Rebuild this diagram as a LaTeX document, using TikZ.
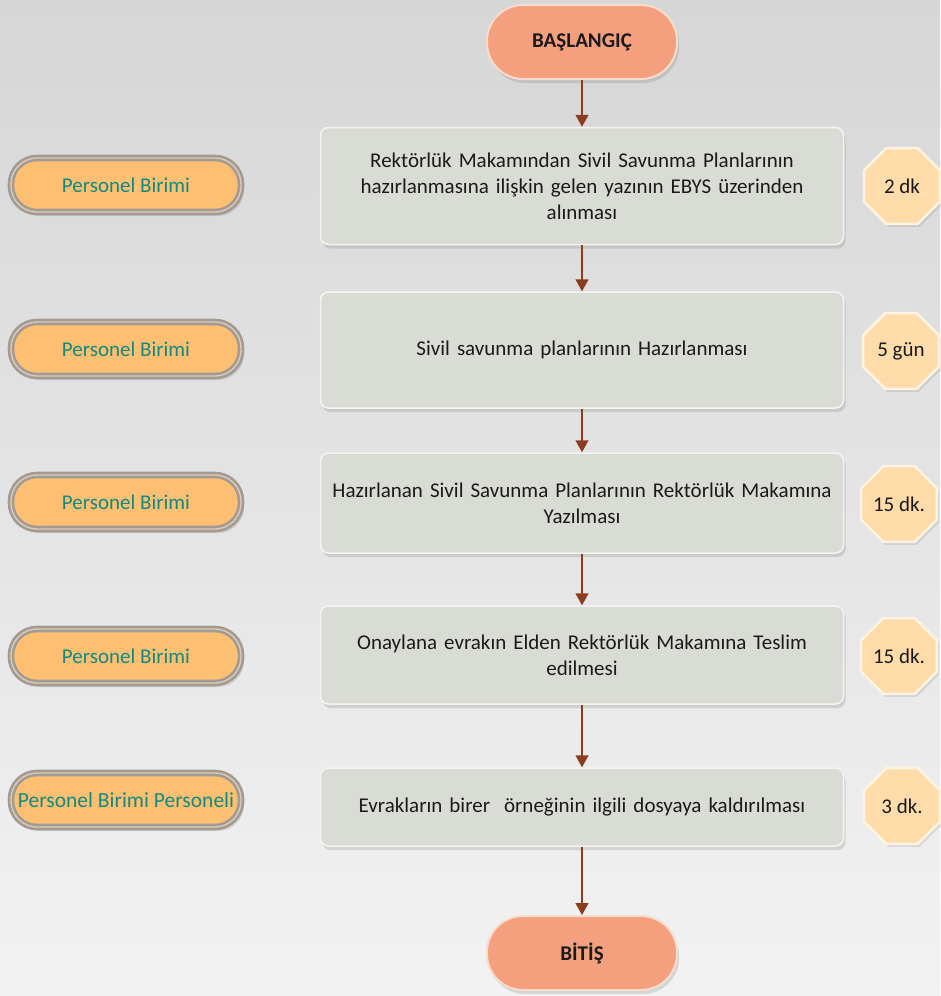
\documentclass[tikz,border=0pt]{standalone}
\usepackage{fontspec}
\setmainfont{Carlito}
\usetikzlibrary{shapes.geometric,shadows,arrows.meta}
\definecolor{bgtop}{HTML}{D6D6D6}
\definecolor{bgbot}{HTML}{F2F2F2}
\definecolor{boxfill}{HTML}{D9DBD5}
\definecolor{boxedge}{HTML}{F4F4F2}
\definecolor{pillfill}{HTML}{FDBF71}
\definecolor{pilledge}{HTML}{A39B93}
\definecolor{pillring}{HTML}{D9CBB8}
\definecolor{pilltext}{HTML}{138A80}
\definecolor{octfill}{HTML}{FFDCAA}
\definecolor{octedge}{HTML}{FFF4E4}
\definecolor{termfill}{HTML}{F4A07E}
\definecolor{termedge}{HTML}{F7DCCB}
\definecolor{arrowc}{HTML}{8B3E1F}
\definecolor{txt}{HTML}{1A1A1A}
\tikzset{
  stepbox/.style={draw=boxedge, line width=1.5pt, fill=boxfill, rounded corners=8pt,
    minimum width=523pt, text width=515pt, align=center, text=txt,
    font=\fontsize{21}{26}\selectfont,
    drop shadow={shadow xshift=2pt, shadow yshift=-4pt, opacity=0.25}},
  pill/.style={draw=pilledge, line width=2.6pt, double=pillring, double distance=1.4pt,
    fill=pillfill, rounded corners=26pt,
    minimum width=230pt, minimum height=54pt, text=pilltext, font=\fontsize{21}{24}\selectfont,
    inner sep=1pt, drop shadow={shadow xshift=3pt, shadow yshift=-4pt, opacity=0.25}},
  oct/.style={regular polygon, regular polygon sides=8, draw=octedge, line width=2.5pt,
    fill=octfill, minimum size=82pt, inner sep=0pt, text=txt, font=\fontsize{21}{24}\selectfont,
    drop shadow={shadow xshift=2pt, shadow yshift=-3pt, opacity=0.2}},
  term/.style={draw=termedge, line width=2pt, fill=termfill, rounded corners=36pt,
    minimum width=190pt, minimum height=74pt, text=txt, font=\bfseries\fontsize{21}{24}\selectfont,
    drop shadow={shadow xshift=2pt, shadow yshift=-4pt, opacity=0.25}},
  flow/.style={draw=arrowc, line width=1.5pt, -{Triangle[length=12pt,width=13pt]}}
}
\begin{document}
\begin{tikzpicture}[x=1pt,y=-1pt]
\shade[top color=bgtop, bottom color=bgbot] (0,0) rectangle (940,996);
\useasboundingbox (0,0) rectangle (940,996);

\node[term] (start) at (582,42) {BAŞLANGIÇ};
\node[stepbox, minimum height=117pt] (s1) at (582,186) {Rektörlük Makamından Sivil Savunma Planlarının\\ hazırlanmasına ilişkin gelen yazının EBYS üzerinden\\ alınması};
\node[stepbox, minimum height=116pt] (s2) at (582,350) {Sivil savunma planlarının Hazırlanması};
\node[stepbox, minimum height=100pt] (s3) at (582,503) {Hazırlanan Sivil Savunma Planlarının Rektörlük Makamına\\ Yazılması};
\node[stepbox, minimum height=98pt] (s4) at (582,655) {Onaylana evrakın Elden Rektörlük Makamına Teslim\\ edilmesi};
\node[stepbox, minimum height=78pt] (s5) at (582,807) {Evrakların birer \ örneğinin ilgili dosyaya kaldırılması};
\node[term] (end) at (582,953) {BİTİŞ};

\node[pill] (p1) at (126,185) {Personel Birimi};
\node[pill] (p2) at (126,349) {Personel Birimi};
\node[pill] (p3) at (126,502) {Personel Birimi};
\node[pill] (p4) at (126,656) {Personel Birimi};
\node[pill, font=\fontsize{21.5}{24}\selectfont] (p5) at (126,800) {Personel Birimi Personeli};

\node[oct] (t1) at (902,186) {2 dk};
\node[oct] (t2) at (901,351) {5 gün};
\node[oct] (t3) at (899,504) {15 dk.};
\node[oct] (t4) at (899,656) {15 dk.};
\node[oct] (t5) at (902,806) {3 dk.};

\draw[flow] (start) -- (s1);
\draw[flow] (s1) -- (s2);
\draw[flow] (s2) -- (s3);
\draw[flow] (s3) -- (s4);
\draw[flow] (s4) -- (s5);
\draw[flow] (s5) -- (end);
\end{tikzpicture}
\end{document}
